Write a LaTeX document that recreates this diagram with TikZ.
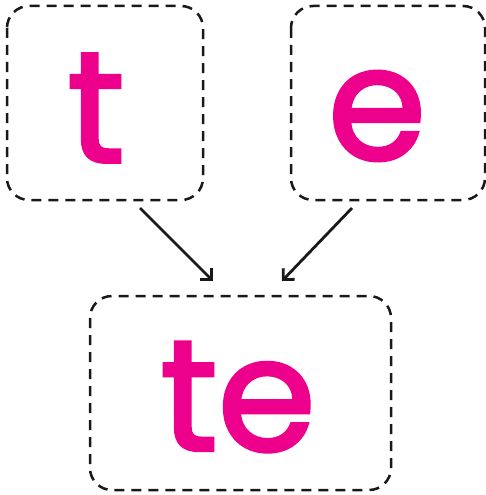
\documentclass[tikz,border=0pt]{standalone}
\usepackage{fontspec}
\newfontfamily\letterfont{Poppins}[FakeBold=2.2]
\usetikzlibrary{arrows.meta}
\definecolor{lettermag}{HTML}{EC008C}
\begin{document}
\begin{tikzpicture}[x=1pt,y=-1pt,
  tilebox/.style={draw=black!90,line width=2.5pt,dash pattern=on 10pt off 7pt,rounded corners=22pt},
  letter/.style={text=lettermag,font=\letterfont\fontsize{158}{158}\selectfont,inner sep=0pt},
  linkarrow/.style={draw=black!90,line width=2.8pt,-{Straight Barb[length=8pt,width=16pt,line width=2.8pt]}}]
\useasboundingbox (0,0) rectangle (486,495);
\draw[tilebox] (7,6) rectangle (203,200) coordinate (boxA);
\draw[tilebox] (291,6) rectangle (485,200) coordinate (boxB);
\draw[tilebox] (90,296) rectangle (391,490) coordinate (boxC);
\node[letter] (lt) at (96,108) {t};
\node[letter] (le) at (377,116) {e};
\node[letter] (lte) at (238,397) {te};
\coordinate (s1) at (140,208);
\coordinate (e1) at (213,281);
\coordinate (s2) at (352,208);
\coordinate (e2) at (282,281);
\draw[linkarrow] (s1) -- (e1);
\draw[linkarrow] (s2) -- (e2);
\end{tikzpicture}
\end{document}
